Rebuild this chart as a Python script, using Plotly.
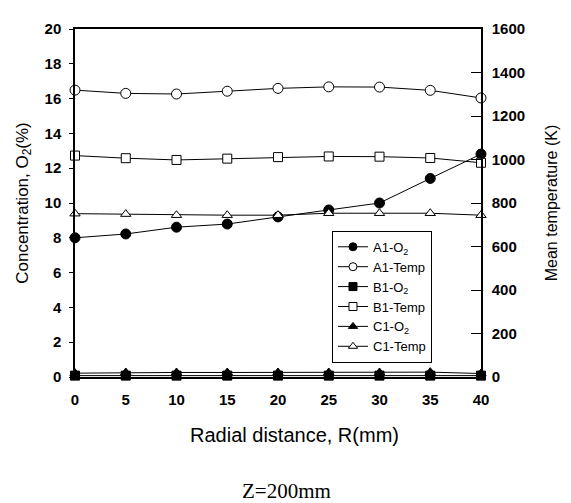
import plotly.graph_objects as go

r_mm = [0, 5, 10, 15, 20, 25, 30, 35, 40]
a1_o2 = [8.0, 8.22, 8.61, 8.79, 9.2, 9.6, 10.0, 11.41, 12.81]
a1_temp = [1319, 1304, 1301, 1314, 1327, 1334, 1333, 1318, 1283]
b1_o2 = [0.08, 0.08, 0.08, 0.08, 0.08, 0.08, 0.08, 0.08, 0.08]
b1_temp = [1018, 1006, 998, 1004, 1011, 1014, 1013, 1007, 985]
c1_o2 = [0.22, 0.26, 0.26, 0.26, 0.26, 0.26, 0.26, 0.28, 0.2]
c1_temp = [751, 749, 744, 744, 744, 753, 753, 753, 744]

x_ticks = [0, 5, 10, 15, 20, 25, 30, 35, 40]
y_ticks = [0, 2, 4, 6, 8, 10, 12, 14, 16, 18, 20]
y2_ticks = [0, 200, 400, 600, 800, 1000, 1200, 1400, 1600]

fig = go.Figure()

def add(name, y, symbol, filled, axis, size):
    color = "black" if filled else "white"
    fig.add_trace(go.Scatter(
        x=r_mm, y=y, name=name, yaxis=axis, mode="lines+markers",
        line=dict(color="black", width=1),
        marker=dict(symbol=symbol, size=size, color=color,
                    line=dict(color="black", width=1)),
        cliponaxis=False, showlegend=False,
    ))
    # legend-only entry with smaller marker
    fig.add_trace(go.Scatter(
        x=[None], y=[None], name=name, yaxis=axis, mode="lines+markers",
        line=dict(color="black", width=1),
        marker=dict(symbol=symbol, size=8, color=color,
                    line=dict(color="black", width=1)),
        showlegend=True,
    ))

add("A1-O<sub>2</sub>", a1_o2, "circle", True, "y", 10)
add("A1-Temp", a1_temp, "circle", False, "y2", 10)
add("B1-O<sub>2</sub>", b1_o2, "square", True, "y", 9)
add("B1-Temp", b1_temp, "square", False, "y2", 9)
add("C1-O<sub>2</sub>", c1_o2, "triangle-up", True, "y", 9)
add("C1-Temp", c1_temp, "triangle-up", False, "y2", 9)

tickfont = dict(family="Liberation Sans", size=15, color="black")

def bold(vals):
    return ["<b>%d</b>" % v for v in vals]

fig.update_layout(
    width=563, height=495,
    margin=dict(l=67, r=90, t=12, b=126),
    paper_bgcolor="white", plot_bgcolor="white",
    showlegend=True,
    legend=dict(x=0.633, y=0.42, xanchor="left", yanchor="top",
                bordercolor="black", borderwidth=1, bgcolor="white",
                font=dict(family="Liberation Sans", size=13, color="black"),
                tracegroupgap=0),
    xaxis=dict(range=[0, 40], tickvals=x_ticks, ticktext=bold(x_ticks),
               showgrid=False, zeroline=False, showline=True, linecolor="black",
               linewidth=1.5, mirror=True, ticks="", tickfont=tickfont,
               ticklabelstandoff=8),
    yaxis=dict(range=[0, 20], tickvals=y_ticks, ticktext=bold(y_ticks),
               showgrid=False, zeroline=False,
               showline=True, linecolor="black", linewidth=1.5,
               ticks="outside", ticklen=4, tickcolor="black", tickfont=tickfont,
               ticklabelstandoff=5,
               title=dict(text="Concentration, O<sub>2</sub>(%)",
                          font=dict(family="Liberation Sans", size=17, color="black"),
                          standoff=12)),
    yaxis2=dict(range=[0, 1600], tickvals=y2_ticks, ticktext=bold(y2_ticks),
                overlaying="y", side="right",
                showgrid=False, zeroline=False, showline=True, linecolor="black",
                linewidth=1.5, ticks="inside", ticklen=10, tickcolor="black",
                tickfont=tickfont, ticklabelstandoff=6,
                title=dict(text="Mean temperature (K)",
                           font=dict(family="Liberation Sans", size=16, color="black"),
                           standoff=22)),
    annotations=[
        dict(text="Radial distance, R(mm)", x=0.54, y=-0.167, xref="paper", yref="paper",
             showarrow=False, xanchor="center", yanchor="middle",
             font=dict(family="Liberation Sans", size=20, color="black")),
        dict(text="Z=200mm", x=0.522, y=-0.328, xref="paper", yref="paper",
             showarrow=False, xanchor="center", yanchor="middle",
             font=dict(family="Liberation Serif", size=21, color="black")),
    ],
)

fig.write_html("out.html")
